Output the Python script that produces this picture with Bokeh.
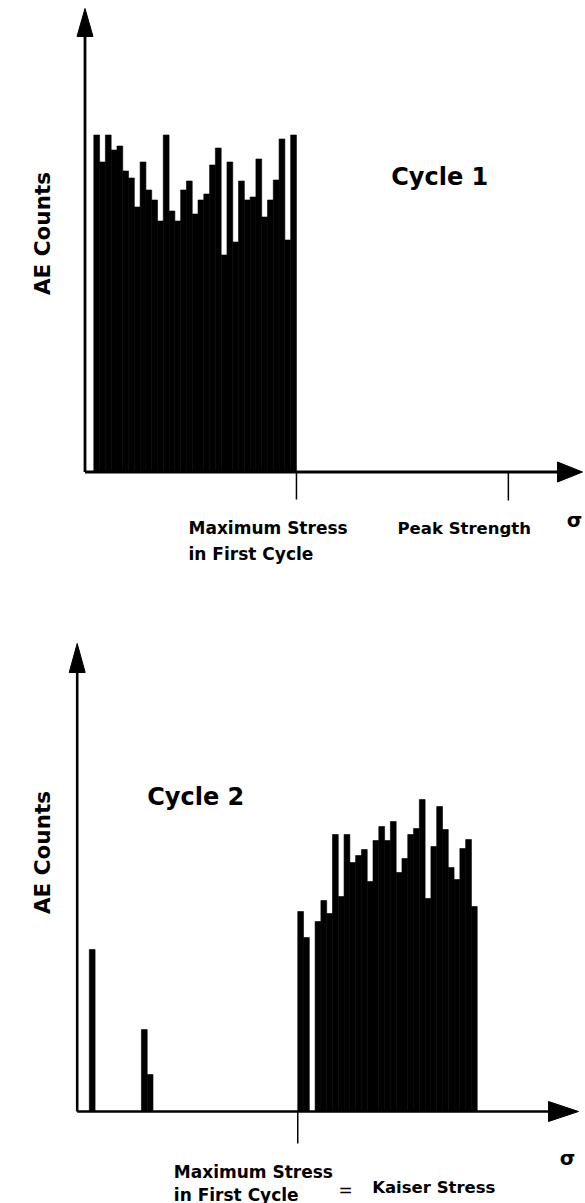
import numpy as np
from bokeh.plotting import figure
from bokeh.layouts import column
from bokeh.models import Range1d
from bokeh.core.properties import value
from bokeh.embed import file_html
from bokeh.resources import INLINE

# ---------------- data ----------------
# Cycle 1: AE counts per stress bin (bin index = stress step)
cycle1_bins = list(range(35))
cycle1_counts = [337, 310, 337, 322, 326, 301, 294, 265, 310, 282, 272, 251,
                 337, 261, 251, 282, 291, 258, 272, 278, 307, 324, 217, 310,
                 230, 291, 272, 275, 313, 255, 272, 292, 333, 232, 337]

# Cycle 2: AE counts per stress bin (empty bins omitted)
cycle2_bins = [0, 9, 10, 36, 37, 39, 40, 41, 42, 43, 44, 45, 46, 47, 48, 49,
               50, 51, 52, 53, 54, 55, 56, 57, 58, 59, 60, 61, 62, 63, 64, 65, 66]
cycle2_counts = [162, 82, 37, 200, 174, 190, 211, 198, 277, 215, 277, 249, 256,
                 262, 230, 271, 285, 271, 290, 239, 253, 277, 283, 312, 213, 265,
                 305, 282, 244, 232, 263, 272, 205]

max_stress_cycle1_top = 35      # stress bin where cycle 1 stopped (top chart)
peak_strength_top = 71.6        # stress bin of peak strength (top chart)
max_stress_cycle1_bottom = 36   # same stress on the bottom chart's scale

FONT = value("DejaVu Sans")
W = 585
H1, H2 = 600, 603
BW = 5.79  # px per stress bin


def tx(px):  # page px -> top chart stress
    return (px - 93.3) / BW


def ty(py):  # page px -> top chart counts
    return 471.5 - py


def bx(px):
    return (px - 88.8) / BW


def by(py):
    return 1111 - py


def make_fig(xf, yf, h, top_py, bot_py):
    p = figure(width=W, height=h, x_range=Range1d(xf(0), xf(W)),
               y_range=Range1d(yf(bot_py), yf(top_py)),
               output_backend="svg", toolbar_location=None, min_border=0,
               x_axis_location=None, y_axis_location=None)
    p.grid.visible = False
    p.outline_line_color = None
    p.background_fill_color = "white"
    p.border_fill_color = "white"
    return p


def txt(p, x, y, s, size, align="left", angle=0.0, style="bold"):
    p.text(x=[x], y=[y], text=[s], text_font=FONT, text_font_style=style,
           text_font_size=size, text_align=align, text_baseline="alphabetic",
           text_color="black", angle=angle)


# ---------------- top chart: Cycle 1 ----------------
p1 = make_fig(tx, ty, H1, 0, H1)
b1 = np.array(cycle1_bins, dtype=float)
p1.quad(left=b1, right=b1 + 1, bottom=0, top=cycle1_counts,
        fill_color="black", line_color="black", line_width=0.6)

ox1 = tx(84.5)
p1.segment(x0=[ox1, ox1], y0=[0, 0], x1=[tx(560), ox1], y1=[0, ty(30)],
           line_color="black", line_width=2.8)
p1.patch(x=[tx(582), tx(557), tx(557)], y=[0, 10, -10], color="black")
p1.patch(x=[ox1, ox1 - 8 / BW, ox1 + 8 / BW], y=[ty(8), ty(36), ty(36)],
         color="black")
p1.segment(x0=[max_stress_cycle1_top, peak_strength_top], y0=[0, 0],
           x1=[max_stress_cycle1_top, peak_strength_top], y1=[ty(499), ty(500)],
           line_color="black", line_width=1.5)

txt(p1, tx(390.7), ty(176.7), "Cycle 1", "24px")
txt(p1, tx(41.7), ty(233), "AE Counts", "21.5px", align="center", angle=np.pi / 2)
txt(p1, tx(188), ty(527), "Maximum Stress", "17px")
txt(p1, tx(188), ty(553), "in First Cycle", "17px")
txt(p1, tx(397), ty(528), "Peak Strength", "16.5px")
txt(p1, tx(574), ty(519), "σ", "20px", align="center")

# ---------------- bottom chart: Cycle 2 ----------------
p2 = make_fig(bx, by, H2, H1, H1 + H2)
b2 = np.array(cycle2_bins, dtype=float)
p2.quad(left=b2, right=b2 + 1, bottom=0, top=cycle2_counts,
        fill_color="black", line_color="black", line_width=0.6)

ox2 = bx(76.7)
p2.segment(x0=[ox2, ox2], y0=[0, 0], x1=[bx(552), ox2], y1=[0, by(668)],
           line_color="black", line_width=2.6)
p2.patch(x=[bx(578), bx(548), bx(548)], y=[0, 10, -10], color="black")
p2.patch(x=[ox2, ox2 - 8 / BW, ox2 + 8 / BW], y=[by(643), by(672), by(672)],
         color="black")
p2.segment(x0=[max_stress_cycle1_bottom], y0=[0],
           x1=[max_stress_cycle1_bottom], y1=[by(1143)],
           line_color="black", line_width=1.5)

txt(p2, bx(146.7), by(796.7), "Cycle 2", "24px")
txt(p2, bx(41.7), by(852), "AE Counts", "21.5px", align="center", angle=np.pi / 2)
txt(p2, bx(173.3), by(1171.7), "Maximum Stress", "17px")
txt(p2, bx(173.3), by(1194), "in First Cycle", "17px")
txt(p2, bx(345), by(1189), "=", "17px", align="center", style="normal")
txt(p2, bx(371.7), by(1187.3), "Kaiser Stress", "16.5px")
txt(p2, bx(567), by(1157), "σ", "20px", align="center")

layout = column(p1, p2, spacing=0)
open("out.html", "w").write(file_html(layout, INLINE))
